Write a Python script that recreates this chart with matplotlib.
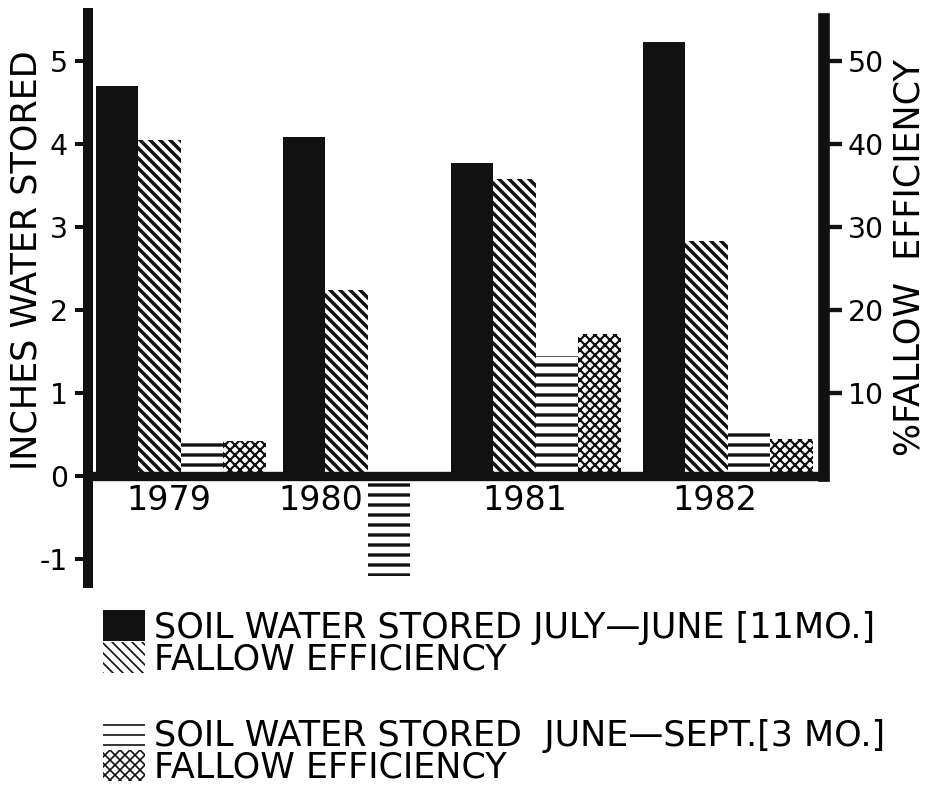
import numpy as np
import matplotlib
matplotlib.use('Agg')
import matplotlib.pyplot as plt

plt.rcParams['font.family'] = 'DejaVu Sans'
plt.rcParams['axes.unicode_minus'] = False

# data
years = ['1979', '1980', '1981', '1982']
stored_jul_jun = [4.70, 4.08, 3.77, 5.23]    # inches, 11 months
eff_jul_jun = [40.5, 22.4, 35.8, 28.3]       # % fallow efficiency
stored_jun_sep = [0.42, -1.20, 1.44, 0.57]   # inches, 3 months
eff_jun_sep = [4.2, np.nan, 17.1, 4.4]       # % fallow efficiency (none for 1980)

# layout (bar-width units), groups are not evenly spaced in the original
group_start = np.array([0.0, 4.4, 8.35, 12.87])
year_label_x = [1.72, 5.29, 10.09, 14.56]

DPI = 120
W, H = 932, 785
ink = '#111111'

fig = plt.figure(figsize=(W / DPI, H / DPI), dpi=DPI)
ax = fig.add_axes([88 / W, 1 - 583 / H, 736 / W, 570 / H])
ax2 = ax.twinx()


def hatched(axis, x, vals, hatch, hlw):
    with plt.rc_context({'hatch.linewidth': hlw}):
        bars = axis.bar(x, vals, width=1, align='edge', facecolor='none',
                        edgecolor=ink, hatch=hatch, linewidth=0)
    for b in bars:
        if hasattr(b, 'set_hatch_linewidth'):
            b.set_hatch_linewidth(hlw)
    return bars


b1 = ax.bar(group_start, stored_jul_jun, width=1, align='edge', color=ink, linewidth=0)
b2 = hatched(ax2, group_start + 1, eff_jul_jun, '\\\\\\\\', 2.1)
b3 = hatched(ax, group_start + 2, stored_jun_sep, '--', 2.0)
b4 = hatched(ax2, group_start + 3, eff_jun_sep, 'xxxx', 1.3)

ax.set_xlim(-0.188, 17.13)
ax.set_ylim(-1.289, 5.578)
ax2.set_ylim(-12.89, 55.78)

# axes lines
ax.spines['top'].set_visible(False)
ax.spines['right'].set_visible(False)
ax.spines['left'].set_linewidth(6)
ax.spines['left'].set_color(ink)
ax.spines['bottom'].set_position(('data', 0))
ax.spines['bottom'].set_linewidth(5.6)
ax.spines['bottom'].set_color(ink)
for s in ['top', 'left', 'bottom']:
    ax2.spines[s].set_visible(False)
ax2.spines['right'].set_linewidth(7)
ax2.spines['right'].set_color(ink)
ax2.spines['right'].set_bounds(0, 55.0)

ax.set_yticks(range(-1, 6))
ax.tick_params(axis='y', direction='out', length=7.8, width=2.4, color=ink,
               labelsize=17, pad=4.2)
ax2.set_yticks(range(10, 60, 10))
ax2.tick_params(axis='y', direction='out', length=10.8, width=2.6, color=ink,
                labelsize=17, pad=3.6)
ax.set_xticks(year_label_x, years)
ax.tick_params(axis='x', length=0, labelsize=20, pad=5)

fig.text(27 / W, 1 - 260 / H, 'INCHES WATER STORED', rotation=90,
         ha='center', va='center', fontsize=21)
fig.text(909 / W, 1 - 258 / H, '%FALLOW  EFFICIENCY', rotation=90,
         ha='center', va='center', fontsize=21)

leg_kw = dict(loc='upper left', frameon=False, fontsize=21, handlelength=1.2,
              handleheight=1.0, handletextpad=0.25, labelspacing=-0.08,
              borderpad=0, borderaxespad=0)
fig.legend([b1, b2], ['SOIL WATER STORED JULY—JUNE [11MO.]', 'FALLOW EFFICIENCY'],
           bbox_to_anchor=(103 / W, 1 - 610 / H), **leg_kw)
fig.legend([b3, b4], ['SOIL WATER STORED  JUNE—SEPT.[3 MO.]', 'FALLOW EFFICIENCY'],
           bbox_to_anchor=(103 / W, 1 - 718 / H), **leg_kw)

fig.savefig('out.png', dpi=DPI)
